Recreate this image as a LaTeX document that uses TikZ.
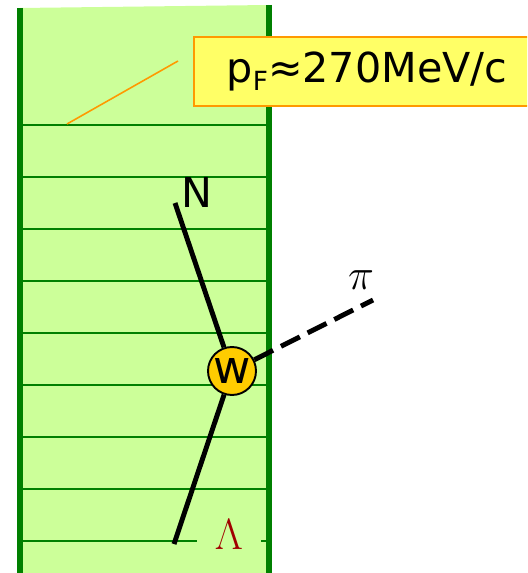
\documentclass[tikz,border=0pt]{standalone}
\usepackage{fontspec}
\setmainfont{DejaVu Sans}
\usetikzlibrary{calc}
\definecolor{slab}{HTML}{CCFF99}
\definecolor{slabline}{HTML}{008000}
\definecolor{fermi}{HTML}{FFFF66}
\definecolor{fermiline}{HTML}{FF9900}
\definecolor{weak}{HTML}{FFCC00}
\definecolor{lam}{HTML}{A00000}
\tikzset{
  track/.style={line width=2.8pt},
  lbl/.style={font=\fontsize{23.5}{28}\selectfont},
  fermibox/.style={draw=fermiline,fill=fermi,line width=1.2pt,minimum width=6.92cm,minimum height=1.38cm,lbl},
  vertex/.style={circle,draw,fill=weak,line width=1.1pt,minimum size=0.96cm,inner sep=0pt,font=\fontsize{26}{30}\selectfont}
}
\begin{document}
\begin{tikzpicture}[x=0.02cm,y=-0.02cm]
  \useasboundingbox (0,0) rectangle (527,573);
  \clip (0,0) rectangle (527,573);
  % nuclear matter slab
  \fill[slab] (20,8) -- (269,5) -- (269,573) -- (20,573) -- cycle;
  \foreach \y in {125,177,...,543}
    \draw[slabline,line width=1.2pt] (20,\y) -- (269,\y);
  \draw[slabline,line width=3.2pt] (20,8) -- (20,573);
  \draw[slabline,line width=3.2pt] (269,5) -- (269,573);
  % Fermi momentum label
  \coordinate (fa) at (67,124);
  \coordinate (fb) at (178,61);
  \draw[fermiline,line width=0.9pt] (fa) -- (fb);
  \node[fermibox] (pf) at (367,71.5) {p\raisebox{-0.35ex}{\fontsize{15}{18}\selectfont F}≈270MeV/c};
  % weak vertex and tracks
  \node[vertex] (w) at (232,371) {w};
  \coordinate (nt) at (175,203);
  \coordinate (lt) at (174,544);
  \coordinate (pt) at (373,300);
  \draw[track] (nt) -- (w);
  \draw[track] (lt) -- (w);
  \draw[track,dash pattern=on 12pt off 5pt] (w) -- (pt);
  \node[lbl] (n) at (197,192) {N};
  \node[lbl] (pi) at (361,280) {$\pi$};
  \node[fill=slab,inner xsep=10pt,inner ysep=1pt,text=lam,font=\fontsize{29}{34}\selectfont] (lam) at (229,535) {$\Lambda$};
\end{tikzpicture}
\end{document}
